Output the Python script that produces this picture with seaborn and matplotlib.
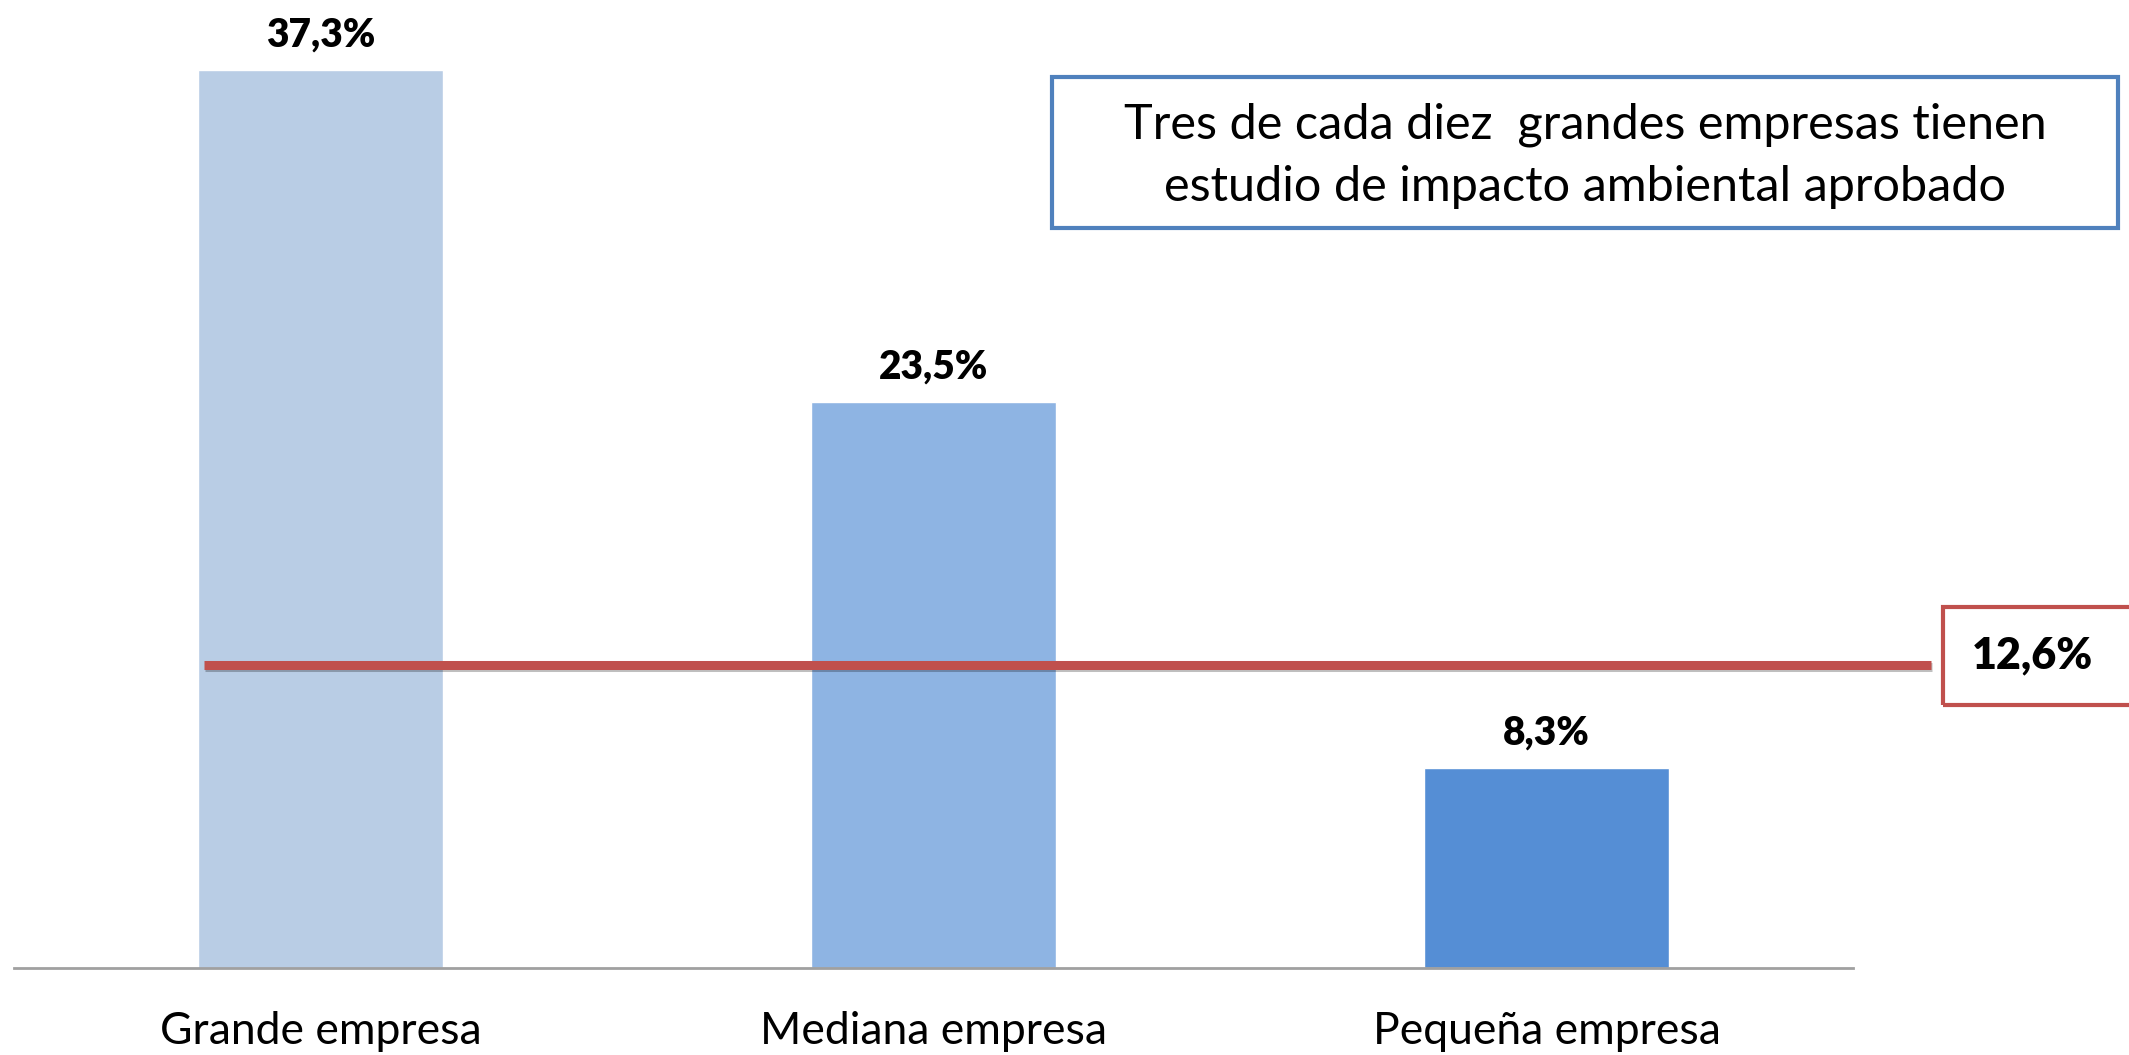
import matplotlib
matplotlib.use('Agg')
import matplotlib.pyplot as plt
import matplotlib.patheffects as pe
from matplotlib.patches import Rectangle
import seaborn as sns

categories = ['Grande empresa', 'Mediana empresa', 'Pequeña empresa']
values = [37.3, 23.5, 8.3]
labels = ['37,3%', '23,5%', '8,3%']
colors = ['#B9CDE5', '#8EB4E3', '#558ED5']
average = 12.6
average_label = '12,6%'
note = 'Tres de cada diez  grandes empresas tienen\nestudio de impacto ambiental aprobado'

sns.set_style('white')
plt.rcParams['font.family'] = ['Lato', 'DejaVu Sans']
plt.rcParams['text.color'] = 'black'
plt.rcParams['xtick.color'] = 'black'

W, H = 2129, 1055
fig = plt.figure(figsize=(W / 100, H / 100), dpi=100)
ax = fig.add_axes([14 / W, 87 / H, (1853 - 14) / W, 968 / H])

sns.barplot(x=categories, y=values, hue=categories, palette=colors,
            width=0.4, legend=False, saturation=1, ax=ax)

ax.set_xlim(-0.5, 2.5)
ax.set_ylim(0, 40.2)
for s in ['top', 'right', 'left']:
    ax.spines[s].set_visible(False)
ax.spines['bottom'].set_color('#A0A0A0')
ax.spines['bottom'].set_linewidth(2)
ax.set_yticks([])
ax.set_xlabel('')
ax.set_ylabel('')
ax.tick_params(axis='x', length=0, pad=31, labelsize=32, labelcolor='black')

for i, (v, lab) in enumerate(zip(values, labels)):
    ax.annotate(lab, (i, v), xytext=(0, 25), textcoords='offset points',
                ha='center', va='center', fontsize=28, fontweight='heavy')

# average line
ax.plot([-0.19, 2.627], [average, average], color='#C0504D', lw=6.5,
        clip_on=False, solid_capstyle='butt',
        path_effects=[pe.SimpleLineShadow(offset=(1, -2), alpha=0.25), pe.Normal()])

# average box
fig.add_artist(Rectangle((1943 / W, (H - 705) / H), 200 / W, 98 / H,
                         transform=fig.transFigure, fill=False,
                         ec='#C0504D', lw=3))
fig.text(2032 / W, (H - 655) / H, average_label, ha='center', va='center',
         fontsize=31, fontweight='heavy')

# note box
fig.add_artist(Rectangle((1052 / W, (H - 228) / H), 1066 / W, 151 / H,
                         transform=fig.transFigure, fill=False,
                         ec='#4F81BD', lw=3))
fig.text(1585 / W, (H - 156) / H, note, ha='center', va='center',
         fontsize=35, linespacing=1.5)

fig.savefig('out.png', dpi=100)
